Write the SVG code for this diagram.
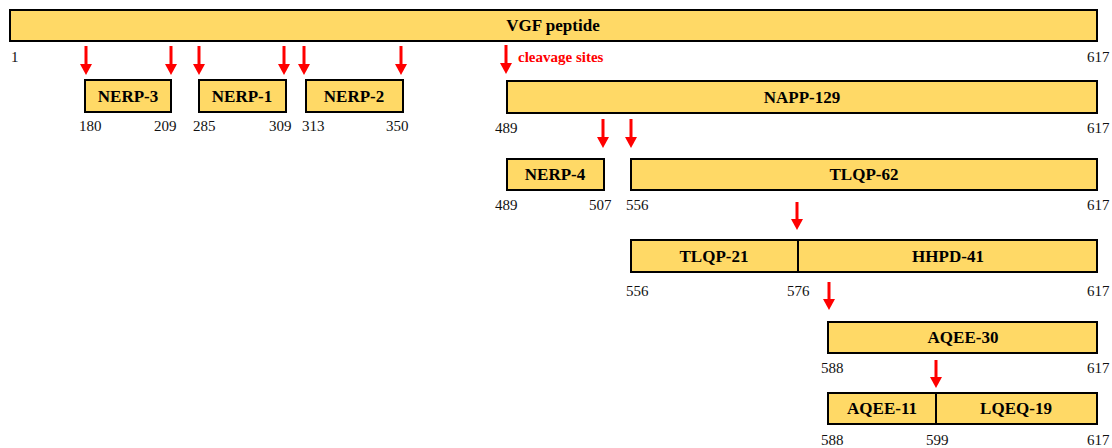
<svg xmlns="http://www.w3.org/2000/svg" width="1112" height="448" viewBox="0 0 1112 448">
<style>
.box{fill:#FFD966;stroke:#000;stroke-width:2}
.div{stroke:#000;stroke-width:2}
.lbl{font-family:"Liberation Serif",serif;font-weight:bold;font-size:17px;fill:#000;text-anchor:middle}
.num{font-family:"Liberation Serif",serif;font-size:15px;fill:#111}
.arr{stroke:#FF0000;stroke-width:3;fill:none;marker-end:url(#ah)}
.red{font-family:"Liberation Serif",serif;font-weight:bold;font-size:15px;fill:#FF0000}
</style>
<defs>
<marker id="ah" markerUnits="userSpaceOnUse" markerWidth="11" markerHeight="12" refX="2" refY="6" orient="auto" viewBox="0 0 11 12">
<path d="M0,0 L11,6 L0,12 Z" fill="#FF0000"/>
</marker>
</defs>
<rect width="1112" height="448" fill="#fff"/>
<g id="vgf"><rect class="box" x="10" y="10" width="1087" height="31"/><text class="lbl" x="553" y="31">VGF peptide</text>
<text class="num" x="11" y="62">1</text><text class="num" x="1087" y="62">617</text></g>
<g id="nerp3"><rect class="box" x="85" y="80" width="86" height="32"/><text class="lbl" x="128" y="102">NERP-3</text>
<text class="num" x="79" y="131">180</text><text class="num" x="154" y="131">209</text></g>
<g id="nerp1"><rect class="box" x="199" y="80" width="87" height="32"/><text class="lbl" x="242" y="102">NERP-1</text>
<text class="num" x="193" y="131">285</text><text class="num" x="269" y="131">309</text></g>
<g id="nerp2"><rect class="box" x="306" y="80" width="97" height="32"/><text class="lbl" x="354" y="102">NERP-2</text>
<text class="num" x="302" y="131">313</text><text class="num" x="386" y="131">350</text></g>
<g id="napp129"><rect class="box" x="507" y="81" width="590" height="32"/><text class="lbl" x="802" y="103">NAPP-129</text>
<text class="num" x="495" y="133">489</text><text class="num" x="1087" y="133">617</text></g>
<g id="nerp4"><rect class="box" x="507" y="159" width="97" height="31"/><text class="lbl" x="555" y="180">NERP-4</text>
<text class="num" x="495" y="210">489</text><text class="num" x="589" y="210">507</text></g>
<g id="tlqp62"><rect class="box" x="631" y="159" width="466" height="31"/><text class="lbl" x="864" y="180">TLQP-62</text>
<text class="num" x="626" y="210">556</text><text class="num" x="1087" y="210">617</text></g>
<g id="tlqp21-hhpd41"><rect class="box" x="631" y="240" width="466" height="32"/><line class="div" x1="798" y1="240" x2="798" y2="272"/>
<text class="lbl" x="714" y="262">TLQP-21</text><text class="lbl" x="948" y="262">HHPD-41</text>
<text class="num" x="626" y="296">556</text><text class="num" x="787" y="296">576</text><text class="num" x="1087" y="296">617</text></g>
<g id="aqee30"><rect class="box" x="828" y="322" width="269" height="31"/><text class="lbl" x="963" y="343">AQEE-30</text>
<text class="num" x="821" y="373">588</text><text class="num" x="1087" y="373">617</text></g>
<g id="aqee11-lqeq19"><rect class="box" x="828" y="393" width="269" height="31"/><line class="div" x1="936" y1="393" x2="936" y2="424"/>
<text class="lbl" x="882" y="414">AQEE-11</text><text class="lbl" x="1016" y="414">LQEQ-19</text>
<text class="num" x="821" y="445">588</text><text class="num" x="926" y="445">599</text><text class="num" x="1087" y="445">617</text></g>
<g id="connectors">
<line class="arr" x1="86" y1="46" x2="86" y2="66"/>
<line class="arr" x1="171" y1="46" x2="171" y2="66"/>
<line class="arr" x1="199" y1="46" x2="199" y2="66"/>
<line class="arr" x1="284" y1="46" x2="284" y2="66"/>
<line class="arr" x1="304" y1="46" x2="304" y2="66"/>
<line class="arr" x1="401" y1="46" x2="401" y2="66"/>
<line class="arr" x1="506" y1="45" x2="506" y2="65"/>
<line class="arr" x1="603" y1="119" x2="603" y2="139"/>
<line class="arr" x1="631" y1="119" x2="631" y2="139"/>
<line class="arr" x1="797" y1="202" x2="797" y2="221"/>
<line class="arr" x1="829" y1="282" x2="829" y2="301"/>
<line class="arr" x1="936" y1="360" x2="936" y2="379"/>
</g>
<text class="red" x="518" y="62">cleavage sites</text>
</svg>
